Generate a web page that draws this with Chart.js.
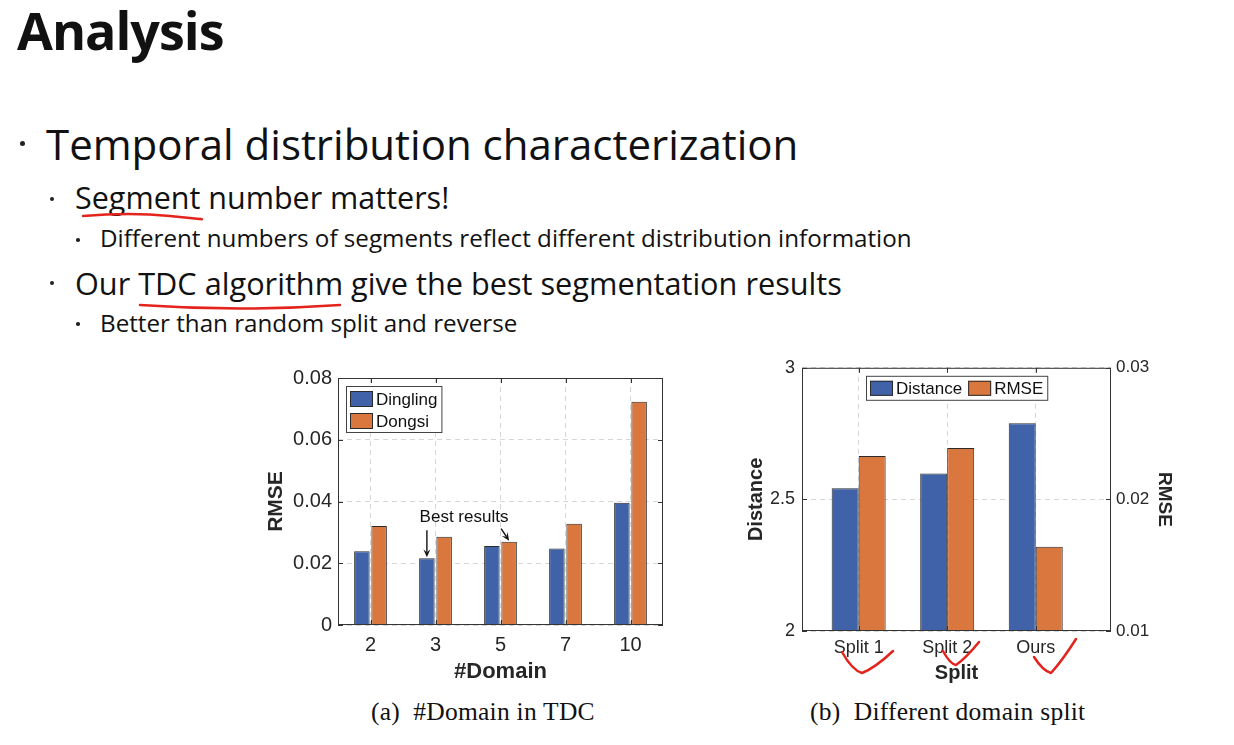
<!DOCTYPE html>
<html>
<head>
<meta charset="utf-8">
<script src="https://cdn.jsdelivr.net/npm/chart.js@4"></script>
<style>
html,body{margin:0;padding:0;background:#fff;}
body{width:1234px;height:745px;position:relative;overflow:hidden;font-family:"Open Sans",sans-serif;color:#111;}
.t{position:absolute;white-space:nowrap;line-height:1;}
.dot{position:absolute;border-radius:50%;background:#222;}
.cv{position:absolute;}
.cap{position:absolute;font-family:"Liberation Serif",serif;font-size:25.5px;letter-spacing:0.25px;white-space:nowrap;line-height:1;color:#111;}
svg{position:absolute;left:0;top:0;pointer-events:none;}
</style>
</head>
<body>
<div class="t" style="left:17px;top:4px;font-size:52px;font-weight:700;letter-spacing:-1px;">Analysis</div>

<div class="dot" style="left:20px;top:141px;width:5px;height:5px;"></div>
<div class="t" style="left:46px;top:123px;font-size:42px;">Temporal distribution characterization</div>

<div class="dot" style="left:50px;top:197px;width:4px;height:4px;"></div>
<div class="t" style="left:75px;top:182px;font-size:30.5px;">Segment number matters!</div>

<div class="dot" style="left:76px;top:238px;width:3.5px;height:3.5px;"></div>
<div class="t" style="left:100px;top:226px;font-size:24.2px;">Different numbers of segments reflect different distribution information</div>

<div class="dot" style="left:50px;top:281px;width:4px;height:4px;"></div>
<div class="t" style="left:75px;top:268px;font-size:30.7px;">Our TDC algorithm give the best segmentation results</div>

<div class="dot" style="left:76px;top:322px;width:3.5px;height:3.5px;"></div>
<div class="t" style="left:100px;top:311px;font-size:24.2px;">Better than random split and reverse</div>

<div class="cv" style="left:260px;top:360px;width:420px;height:330px;"><canvas id="c1"></canvas></div>
<div class="cv" style="left:740px;top:350px;width:450px;height:340px;"><canvas id="c2"></canvas></div>

<div class="cap" style="left:371px;top:699px;">(a)&nbsp; #Domain in TDC</div>
<div class="cap" style="left:810px;top:699px;">(b)&nbsp; Different domain split</div>

<svg width="1234" height="745" viewBox="0 0 1234 745">
  <g fill="none" stroke="#e3231c" stroke-width="2.5" stroke-linecap="round" stroke-linejoin="round">
    <path d="M83 216 Q130 212 170 216 T200 219"/>
    <path d="M140 305 Q240 312 340 305"/>
    <path d="M842 652 Q852 670 862 673 Q875 668 893 651"/>
    <path d="M943 651 Q950 664 956 665 Q966 658 979 642"/>
    <path d="M1034 657 Q1043 671 1051 673 Q1062 661 1076 639"/>
  </g>
</svg>

<script>
// (a) #Domain in TDC
const domains = ['2', '3', '5', '7', '10'];
const dinglingRmse = [0.0239, 0.0216, 0.0256, 0.0248, 0.0396];
const dongsiRmse = [0.0321, 0.0286, 0.0270, 0.0328, 0.0723];
const rmseTicks = [0, 0.02, 0.04, 0.06, 0.08];

// (b) Different domain split
const splits = ['Split 1', 'Split 2', 'Ours'];
const splitDistance = [2.542, 2.598, 2.789];
const splitRmse = [0.0233, 0.0239, 0.0164];
const distTicks = [2, 2.5, 3];
const splitRmseTicks = [0.01, 0.02, 0.03];

const BLUE = '#4062a8', ORANGE = '#d9773f', EDGE = '#2b2b2b';
const FONT = '"Liberation Sans", Arial, sans-serif';
Chart.defaults.font.family = FONT;
Chart.defaults.color = '#262626';
Chart.defaults.animation = false;

const fmt = v => String(+v.toFixed(3));
const setTicks = arr => s => { s.ticks = arr.map(v => ({ value: v })); };

// matlab-like box round the plot area, with inward tick marks
const framePlugin = {
  id: 'frame',
  afterDatasetsDraw(chart) {
    const { ctx, chartArea: a } = chart;
    ctx.save();
    ctx.strokeStyle = '#333'; ctx.lineWidth = 1;
    ctx.strokeRect(a.left + 0.5, a.top + 0.5, a.right - a.left - 1, a.bottom - a.top - 1);
    const hasRight = Object.values(chart.scales).some(s => s.position === 'right');
    ctx.beginPath();
    Object.values(chart.scales).forEach(s => {
      s.ticks.forEach((t, i) => {
        const p = Math.round(s.getPixelForTick(i)) + 0.5;
        if (s.isHorizontal()) {
          ctx.moveTo(p, a.bottom); ctx.lineTo(p, a.bottom - 5);
          ctx.moveTo(p, a.top); ctx.lineTo(p, a.top + 5);
        } else if (s.position === 'left') {
          ctx.moveTo(a.left, p); ctx.lineTo(a.left + 5, p);
          if (!hasRight) { ctx.moveTo(a.right, p); ctx.lineTo(a.right - 5, p); }
        } else {
          ctx.moveTo(a.right, p); ctx.lineTo(a.right - 5, p);
        }
      });
    });
    ctx.stroke();
    ctx.restore();
  }
};

// legend drawn inside the plot area with a framed box
const boxLegend = {
  id: 'boxLegend',
  afterDatasetsDraw(chart, args, o) {
    const { ctx, chartArea: a } = chart;
    ctx.save();
    ctx.font = o.fontSize + 'px ' + FONT;
    const items = chart.data.datasets.map(d => ({ text: d.label, fill: d.backgroundColor, w: ctx.measureText(d.label).width }));
    let bw, bh;
    if (o.horizontal) {
      bw = o.pad * 2 + items.reduce((s, it) => s + o.sw + o.gap + it.w, 0) + o.itemGap * (items.length - 1);
      bh = o.sh + o.pad * 2 + 1;
    } else {
      bw = o.pad * 2 + o.sw + o.gap + Math.max(...items.map(i => i.w));
      bh = o.pad * 2 + (items.length - 1) * o.rowH + o.sh;
    }
    const x0 = o.center ? Math.round((a.left + a.right) / 2 - bw / 2) : a.left + o.dx;
    const y0 = a.top + o.dy;
    ctx.fillStyle = '#fff'; ctx.fillRect(x0, y0, bw, bh);
    ctx.strokeStyle = '#444'; ctx.lineWidth = 1;
    ctx.strokeRect(x0 + 0.5, y0 + 0.5, bw, bh);
    ctx.textBaseline = 'middle'; ctx.textAlign = 'left';
    let x = x0 + o.pad, y = y0 + o.pad + 1;
    items.forEach(it => {
      ctx.fillStyle = it.fill; ctx.fillRect(x, y, o.sw, o.sh);
      ctx.strokeStyle = EDGE; ctx.strokeRect(x + 0.5, y + 0.5, o.sw - 1, o.sh - 1);
      ctx.fillStyle = '#111';
      ctx.fillText(it.text, x + o.sw + o.gap, y + o.sh / 2 + 1);
      if (o.horizontal) x += o.sw + o.gap + it.w + o.itemGap;
      else y += o.rowH;
    });
    ctx.restore();
  }
};

function arrow(ctx, x1, y1, x2, y2) {
  const ang = Math.atan2(y2 - y1, x2 - x1), L = 8, W = 3.5;
  ctx.beginPath(); ctx.moveTo(x1, y1); ctx.lineTo(x2 - L * 0.6 * Math.cos(ang), y2 - L * 0.6 * Math.sin(ang)); ctx.stroke();
  ctx.beginPath();
  ctx.moveTo(x2, y2);
  ctx.lineTo(x2 - L * Math.cos(ang) + W * Math.sin(ang), y2 - L * Math.sin(ang) - W * Math.cos(ang));
  ctx.lineTo(x2 - L * 0.6 * Math.cos(ang), y2 - L * 0.6 * Math.sin(ang));
  ctx.lineTo(x2 - L * Math.cos(ang) - W * Math.sin(ang), y2 - L * Math.sin(ang) + W * Math.cos(ang));
  ctx.closePath(); ctx.fill();
}

const bestNote = {
  id: 'bestNote',
  afterDatasetsDraw(chart) {
    const ctx = chart.ctx;
    const b1 = chart.getDatasetMeta(0).data[domains.indexOf('3')];
    const b2 = chart.getDatasetMeta(1).data[domains.indexOf('5')];
    ctx.save();
    ctx.strokeStyle = '#111'; ctx.fillStyle = '#111'; ctx.lineWidth = 1.4;
    arrow(ctx, b1.x, b1.y - 28, b1.x, b1.y - 1);
    arrow(ctx, b2.x - 8, b2.y - 13, b2.x, b2.y - 1);
    ctx.font = '17px ' + FONT; ctx.textAlign = 'center'; ctx.textBaseline = 'middle';
    ctx.fillText('Best results', (b1.x + b2.x) / 2 - 4, b1.y - 41);
    ctx.restore();
  }
};

const gridDash = { display: false, dash: [5, 4] };
const gridCol = '#d6d6d6';

new Chart(document.getElementById('c1'), {
  type: 'bar',
  data: {
    labels: domains,
    datasets: [
      { label: 'Dingling', data: dinglingRmse, backgroundColor: BLUE, borderColor: EDGE, borderWidth: 1 },
      { label: 'Dongsi', data: dongsiRmse, backgroundColor: ORANGE, borderColor: EDGE, borderWidth: 1 }
    ]
  },
  options: {
    responsive: true, maintainAspectRatio: false,
    categoryPercentage: 0.53, barPercentage: 0.9,
    layout: { padding: { top: 16, right: 17, left: 0, bottom: 0 } },
    plugins: {
      legend: { display: false }, tooltip: { enabled: false },
      boxLegend: { fontSize: 17, pad: 4, sw: 23, sh: 16, gap: 3, rowH: 22, dx: 8, dy: 8 }
    },
    scales: {
      x: {
        offset: true,
        grid: { offset: false, color: gridCol, drawTicks: false },
        border: gridDash,
        ticks: { font: { size: 20 }, padding: 8 },
        title: { display: true, text: '#Domain', font: { size: 22, weight: 'bold' }, padding: { top: 0, bottom: 5 } },
        afterFit(s) { s.height = 65; }
      },
      y: {
        min: 0, max: 0.08,
        afterBuildTicks: setTicks(rmseTicks),
        grid: { color: gridCol, drawTicks: false },
        border: gridDash,
        ticks: { font: { size: 20 }, padding: 6, callback: v => fmt(v) },
        title: { display: true, text: 'RMSE', font: { size: 21, weight: 'bold' }, padding: { top: 4, bottom: 0 } },
        afterFit(s) { s.width = 78; }
      }
    }
  },
  plugins: [framePlugin, boxLegend, bestNote]
});

new Chart(document.getElementById('c2'), {
  type: 'bar',
  data: {
    datasets: [
      { label: 'Distance', data: splitDistance.map((v, i) => ({ x: i + 1, y: v })), yAxisID: 'y', backgroundColor: BLUE, borderColor: EDGE, borderWidth: 1 },
      { label: 'RMSE', data: splitRmse.map((v, i) => ({ x: i + 1, y: v })), yAxisID: 'y2', backgroundColor: ORANGE, borderColor: EDGE, borderWidth: 1 }
    ]
  },
  options: {
    responsive: true, maintainAspectRatio: false,
    categoryPercentage: 0.61, barPercentage: 1,
    layout: { padding: { top: 15, right: 0, left: 0, bottom: 0 } },
    plugins: {
      legend: { display: false }, tooltip: { enabled: false },
      boxLegend: { fontSize: 17, pad: 4, sw: 23, sh: 15, gap: 3, itemGap: 6, horizontal: true, center: true, dy: 8 }
    },
    scales: {
      x: {
        type: 'linear', min: 0.36, max: 3.85, offset: false,
        afterBuildTicks: s => { s.ticks = splits.map((_, i) => ({ value: i + 1 })); },
        grid: { offset: false, color: gridCol, drawTicks: false },
        border: gridDash,
        ticks: { font: { size: 18 }, padding: 6, callback: v => splits[v - 1] },
        title: { display: true, text: 'Split', font: { size: 20, weight: 'bold' }, padding: { top: 0, bottom: 5 } },
        afterFit(s) { s.height = 59; }
      },
      y: {
        position: 'left', min: 2, max: 3,
        afterBuildTicks: setTicks(distTicks),
        grid: { color: gridCol, drawTicks: false },
        border: gridDash,
        ticks: { font: { size: 18 }, padding: 7, callback: v => fmt(v) },
        title: { display: true, text: 'Distance', font: { size: 20, weight: 'bold' }, padding: { top: 4, bottom: 0 } },
        afterFit(s) { s.width = 62; }
      },
      y2: {
        position: 'right', min: 0.01, max: 0.03,
        afterBuildTicks: setTicks(splitRmseTicks),
        grid: { drawOnChartArea: false, drawTicks: false },
        border: { display: false },
        ticks: { font: { size: 17 }, padding: 5, callback: v => fmt(v) },
        title: { display: true, text: 'RMSE', font: { size: 19, weight: 'bold' }, padding: { top: 14, bottom: 0 } },
        afterFit(s) { s.width = 79; }
      }
    }
  },
  plugins: [framePlugin, boxLegend]
});
</script>
</body>
</html>
